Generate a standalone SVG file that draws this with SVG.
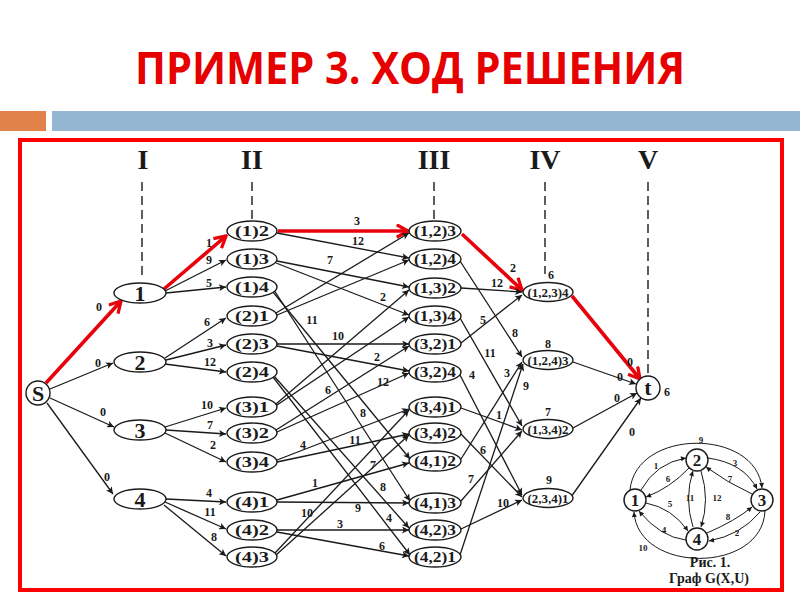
<svg xmlns="http://www.w3.org/2000/svg" width="800" height="600" viewBox="0 0 800 600">
<defs>
<marker id="ab" viewBox="0 0 10 10" refX="10" refY="5" markerWidth="9" markerHeight="7" markerUnits="userSpaceOnUse" orient="auto"><path d="M0,0 L10,5 L0,10 L2.5,5 z" fill="#1a1a1a"/></marker>
<marker id="ar" viewBox="0 0 12 12" refX="10.5" refY="6" markerWidth="15" markerHeight="15" markerUnits="userSpaceOnUse" orient="auto"><path d="M1.5,1 L10.5,6 L1.5,11" fill="none" stroke="#e8000b" stroke-width="2.6"/></marker>
<marker id="ai" viewBox="0 0 10 10" refX="10" refY="5" markerWidth="6" markerHeight="5" markerUnits="userSpaceOnUse" orient="auto"><path d="M0,0 L10,5 L0,10 z" fill="#1a1a1a"/></marker>
<style>
.e{stroke:#1a1a1a;stroke-width:1.3;fill:none;marker-end:url(#ab)}
.r{stroke:#e8000b;stroke-width:3.6;fill:none;marker-end:url(#ar)}
.ie{stroke:#1a1a1a;stroke-width:1;fill:none;marker-end:url(#ai)}
.dash{stroke:#1a1a1a;stroke-width:1.4;stroke-dasharray:9 5}
.nd ellipse,.nd circle{fill:#fff;stroke:#1a1a1a;stroke-width:1.4}
text{font-family:"Liberation Serif","Times New Roman",serif;font-weight:bold;fill:#1a1a1a;text-anchor:middle}
.l{font-size:12px}
.n{font-size:15px}
.m{font-size:13px}
.b{font-size:22px}
.h{font-size:28px}
.il{font-size:9px}
.cap{font-size:14px}
</style>
</defs>

<g id="title">
<text x="410" y="84" style="font-family:'Open Sans','Liberation Sans',sans-serif;font-size:44px;fill:#e60000" textLength="550" lengthAdjust="spacingAndGlyphs">ПРИМЕР 3. ХОД РЕШЕНИЯ</text>
</g>
<g id="bar">
<rect x="0" y="111" width="46" height="20" fill="#e0824a"/>
<rect x="52" y="111" width="748" height="20" fill="#94b6d2"/>
</g>
<rect id="frame" x="20" y="140" width="762" height="450" fill="none" stroke="#ff0000" stroke-width="4"/>

<g id="headers">
<text class="h" x="143" y="169">I</text>
<text class="h" x="252" y="169">II</text>
<text class="h" x="434" y="169">III</text>
<text class="h" x="545" y="169">IV</text>
<text class="h" x="648" y="169">V</text>
<line class="dash" x1="142" y1="182" x2="142" y2="280"/>
<line class="dash" x1="252" y1="182" x2="252" y2="219"/>
<line class="dash" x1="434" y1="182" x2="434" y2="219"/>
<line class="dash" x1="545" y1="182" x2="545" y2="274"/>
<line class="dash" x1="648" y1="182" x2="648" y2="374"/>
</g>

<g id="connectors">
<path class="r" d="M46,383 L121,301"/>
<path class="e" d="M50,389 L113,363"/>
<path class="e" d="M50,398 L114,427"/>
<path class="e" d="M47,403 L113,494"/>

<path class="r" d="M164,289 L226,236"/>
<path class="e" d="M165,291 L226,260"/>
<path class="e" d="M166,293 L226,287"/>
<path class="e" d="M165,358 L226,318"/>
<path class="e" d="M166,360 L226,345"/>
<path class="e" d="M165,364 L226,372"/>
<path class="e" d="M165,427 L226,408"/>
<path class="e" d="M166,430 L226,434"/>
<path class="e" d="M165,433 L226,462"/>
<path class="e" d="M166,499 L226,502"/>
<path class="e" d="M165,502 L226,529"/>
<path class="e" d="M164,505 L226,556"/>

<path class="r" d="M278,231 L408,231"/>
<path class="e" d="M277,233 L409,258"/>
<path class="e" d="M277,261 L409,287"/>
<path class="e" d="M276,263 L409,315"/>
<path class="e" d="M273,292 L410,459"/>
<path class="e" d="M274,290 L410,501"/>
<path class="e" d="M276,313 L409,233"/>
<path class="e" d="M277,315 L409,260"/>
<path class="e" d="M277,344 L409,344"/>
<path class="e" d="M277,346 L409,371"/>
<path class="e" d="M274,376 L409,528"/>
<path class="e" d="M273,377 L410,555"/>
<path class="e" d="M276,404 L409,290"/>
<path class="e" d="M277,405 L409,317"/>
<path class="e" d="M276,430 L409,346"/>
<path class="e" d="M277,432 L409,373"/>
<path class="e" d="M277,460 L409,409"/>
<path class="e" d="M277,462 L409,434"/>
<path class="e" d="M277,500 L409,463"/>
<path class="e" d="M277,502 L409,503"/>
<path class="e" d="M277,530 L409,530"/>
<path class="e" d="M277,532 L409,556"/>
<path class="e" d="M275,553 L409,410"/>
<path class="e" d="M276,555 L409,435"/>

<path class="r" d="M462,234 L522,290"/>
<path class="e" d="M460,261 L522,357"/>
<path class="e" d="M461,288 L522,292"/>
<path class="e" d="M460,318 L522,426"/>
<path class="e" d="M461,343 L522,295"/>
<path class="e" d="M460,375 L522,495"/>
<path class="e" d="M461,408 L522,430"/>
<path class="e" d="M461,434 L522,497"/>
<path class="e" d="M461,459 L522,362"/>
<path class="e" d="M461,501 L522,431"/>
<path class="e" d="M461,529 L522,500"/>
<path class="e" d="M460,555 L523,364"/>

<path class="r" d="M572,296 L640,379"/>
<path class="e" d="M573,362 L636,384"/>
<path class="e" d="M573,428 L637,393"/>
<path class="e" d="M571,497 L641,398"/>
</g>

<g id="edge-labels">
<text class="l" x="99" y="311">0</text>
<text class="l" x="98" y="367">0</text>
<text class="l" x="103" y="416">0</text>
<text class="l" x="107" y="481">0</text>
<text class="l" x="209" y="247">1</text>
<text class="l" x="209" y="264">9</text>
<text class="l" x="209" y="287">5</text>
<text class="l" x="207" y="326">6</text>
<text class="l" x="210" y="347">3</text>
<text class="l" x="210" y="366">12</text>
<text class="l" x="207" y="409">10</text>
<text class="l" x="210" y="429">7</text>
<text class="l" x="213" y="449">2</text>
<text class="l" x="209" y="497">4</text>
<text class="l" x="210" y="516">11</text>
<text class="l" x="214" y="541">8</text>

<text class="l" x="357" y="225">3</text>
<text class="l" x="358" y="245">12</text>
<text class="l" x="330" y="264">7</text>
<text class="l" x="383" y="301">2</text>
<text class="l" x="312" y="324">11</text>
<text class="l" x="338" y="340">10</text>
<text class="l" x="377" y="361">2</text>
<text class="l" x="328" y="394">6</text>
<text class="l" x="383" y="386">12</text>
<text class="l" x="363" y="417">8</text>
<text class="l" x="303" y="449">4</text>
<text class="l" x="355" y="444">11</text>
<text class="l" x="373" y="469">7</text>
<text class="l" x="315" y="487">1</text>
<text class="l" x="383" y="491">8</text>
<text class="l" x="358" y="512">9</text>
<text class="l" x="307" y="517">10</text>
<text class="l" x="340" y="528">3</text>
<text class="l" x="389" y="522">4</text>
<text class="l" x="382" y="550">6</text>

<text class="l" x="513" y="272">2</text>
<text class="l" x="497" y="287">12</text>
<text class="l" x="483" y="324">5</text>
<text class="l" x="515" y="337">8</text>
<text class="l" x="490" y="357">11</text>
<text class="l" x="472" y="379">4</text>
<text class="l" x="507" y="377">3</text>
<text class="l" x="526" y="390">9</text>
<text class="l" x="499" y="419">1</text>
<text class="l" x="483" y="454">6</text>
<text class="l" x="471" y="483">7</text>
<text class="l" x="503" y="507">10</text>

<text class="l" x="551" y="279">6</text>
<text class="l" x="548" y="348">8</text>
<text class="l" x="548" y="416">7</text>
<text class="l" x="549" y="484">9</text>

<text class="l" x="630" y="366">0</text>
<text class="l" x="620" y="381">0</text>
<text class="l" x="617" y="402">0</text>
<text class="l" x="632" y="436">0</text>
<text class="l" x="667" y="396">6</text>
</g>

<g id="node-S" class="nd"><circle cx="38" cy="393" r="12"/><text class="b" x="38" y="401">S</text></g>
<g id="node-1" class="nd"><ellipse cx="140" cy="293" rx="26" ry="10"/><text class="b" x="140" y="301">1</text></g>
<g id="node-2" class="nd"><ellipse cx="140" cy="362" rx="26" ry="10"/><text class="b" x="140" y="370">2</text></g>
<g id="node-3" class="nd"><ellipse cx="140" cy="430" rx="26" ry="10"/><text class="b" x="140" y="438">3</text></g>
<g id="node-4" class="nd"><ellipse cx="140" cy="499" rx="26" ry="10"/><text class="b" x="140" y="507">4</text></g>

<g id="n-1-2" class="nd"><ellipse cx="252" cy="231" rx="25" ry="10"/><text class="n" x="252" y="236" textLength="34" lengthAdjust="spacingAndGlyphs">(1)2</text></g>
<g id="n-1-3" class="nd"><ellipse cx="252" cy="259" rx="25" ry="10"/><text class="n" x="252" y="264" textLength="34" lengthAdjust="spacingAndGlyphs">(1)3</text></g>
<g id="n-1-4" class="nd"><ellipse cx="252" cy="287" rx="25" ry="10"/><text class="n" x="252" y="292" textLength="34" lengthAdjust="spacingAndGlyphs">(1)4</text></g>
<g id="n-2-1" class="nd"><ellipse cx="252" cy="316" rx="25" ry="10"/><text class="n" x="252" y="321" textLength="34" lengthAdjust="spacingAndGlyphs">(2)1</text></g>
<g id="n-2-3" class="nd"><ellipse cx="252" cy="344" rx="25" ry="10"/><text class="n" x="252" y="349" textLength="34" lengthAdjust="spacingAndGlyphs">(2)3</text></g>
<g id="n-2-4" class="nd"><ellipse cx="252" cy="372" rx="25" ry="10"/><text class="n" x="252" y="377" textLength="34" lengthAdjust="spacingAndGlyphs">(2)4</text></g>
<g id="n-3-1" class="nd"><ellipse cx="252" cy="407" rx="25" ry="10"/><text class="n" x="252" y="412" textLength="34" lengthAdjust="spacingAndGlyphs">(3)1</text></g>
<g id="n-3-2" class="nd"><ellipse cx="252" cy="433" rx="25" ry="10"/><text class="n" x="252" y="438" textLength="34" lengthAdjust="spacingAndGlyphs">(3)2</text></g>
<g id="n-3-4" class="nd"><ellipse cx="252" cy="462" rx="25" ry="10"/><text class="n" x="252" y="467" textLength="34" lengthAdjust="spacingAndGlyphs">(3)4</text></g>
<g id="n-4-1" class="nd"><ellipse cx="252" cy="502" rx="25" ry="10"/><text class="n" x="252" y="507" textLength="34" lengthAdjust="spacingAndGlyphs">(4)1</text></g>
<g id="n-4-2" class="nd"><ellipse cx="252" cy="530" rx="25" ry="10"/><text class="n" x="252" y="535" textLength="34" lengthAdjust="spacingAndGlyphs">(4)2</text></g>
<g id="n-4-3" class="nd"><ellipse cx="252" cy="557" rx="25" ry="10"/><text class="n" x="252" y="562" textLength="34" lengthAdjust="spacingAndGlyphs">(4)3</text></g>

<g id="n-12-3" class="nd"><ellipse cx="435" cy="231" rx="26" ry="10"/><text class="n" x="435" y="236" textLength="42" lengthAdjust="spacingAndGlyphs">(1,2)3</text></g>
<g id="n-12-4" class="nd"><ellipse cx="435" cy="259" rx="26" ry="10"/><text class="n" x="435" y="264" textLength="42" lengthAdjust="spacingAndGlyphs">(1,2)4</text></g>
<g id="n-13-2" class="nd"><ellipse cx="435" cy="288" rx="26" ry="10"/><text class="n" x="435" y="293" textLength="42" lengthAdjust="spacingAndGlyphs">(1,3)2</text></g>
<g id="n-13-4" class="nd"><ellipse cx="435" cy="316" rx="26" ry="10"/><text class="n" x="435" y="321" textLength="42" lengthAdjust="spacingAndGlyphs">(1,3)4</text></g>
<g id="n-32-1" class="nd"><ellipse cx="435" cy="344" rx="26" ry="10"/><text class="n" x="435" y="349" textLength="42" lengthAdjust="spacingAndGlyphs">(3,2)1</text></g>
<g id="n-32-4" class="nd"><ellipse cx="435" cy="372" rx="26" ry="10"/><text class="n" x="435" y="377" textLength="42" lengthAdjust="spacingAndGlyphs">(3,2)4</text></g>
<g id="n-34-1" class="nd"><ellipse cx="435" cy="407" rx="26" ry="10"/><text class="n" x="435" y="412" textLength="42" lengthAdjust="spacingAndGlyphs">(3,4)1</text></g>
<g id="n-34-2" class="nd"><ellipse cx="435" cy="433" rx="26" ry="10"/><text class="n" x="435" y="438" textLength="42" lengthAdjust="spacingAndGlyphs">(3,4)2</text></g>
<g id="n-41-2" class="nd"><ellipse cx="435" cy="461" rx="26" ry="10"/><text class="n" x="435" y="466" textLength="42" lengthAdjust="spacingAndGlyphs">(4,1)2</text></g>
<g id="n-41-3" class="nd"><ellipse cx="435" cy="503" rx="26" ry="10"/><text class="n" x="435" y="508" textLength="42" lengthAdjust="spacingAndGlyphs">(4,1)3</text></g>
<g id="n-42-3" class="nd"><ellipse cx="435" cy="530" rx="26" ry="10"/><text class="n" x="435" y="535" textLength="42" lengthAdjust="spacingAndGlyphs">(4,2)3</text></g>
<g id="n-42-1" class="nd"><ellipse cx="435" cy="557" rx="26" ry="10"/><text class="n" x="435" y="562" textLength="42" lengthAdjust="spacingAndGlyphs">(4,2)1</text></g>

<g id="n-123-4" class="nd"><ellipse cx="548" cy="292" rx="25" ry="9.5"/><text class="m" x="548" y="296.5" textLength="41" lengthAdjust="spacingAndGlyphs">(1,2,3)4</text></g>
<g id="n-124-3" class="nd"><ellipse cx="548" cy="360" rx="25" ry="9.5"/><text class="m" x="548" y="364.5" textLength="41" lengthAdjust="spacingAndGlyphs">(1,2,4)3</text></g>
<g id="n-134-2" class="nd"><ellipse cx="548" cy="429" rx="25" ry="9.5"/><text class="m" x="548" y="433.5" textLength="41" lengthAdjust="spacingAndGlyphs">(1,3,4)2</text></g>
<g id="n-234-1" class="nd"><ellipse cx="548" cy="498" rx="25" ry="9.5"/><text class="m" x="548" y="502.5" textLength="41" lengthAdjust="spacingAndGlyphs">(2,3,4)1</text></g>

<g id="node-t" class="nd"><circle cx="648" cy="388" r="12"/><text class="b" x="648" y="395">t</text></g>

<g id="inset">
<g id="inset-connectors">
<path class="ie" d="M630,490 C636,428 756,428 762,488"/>
<path class="ie" d="M765,511 C762,574 638,574 634,512"/>
<path class="ie" d="M641,490 Q656,463 686,458"/>
<path class="ie" d="M689,468 Q670,488 646,497"/>
<path class="ie" d="M708,458 Q744,463 757,489"/>
<path class="ie" d="M752,494 Q728,483 706,467"/>
<path class="ie" d="M701,471 Q710,500 701,527"/>
<path class="ie" d="M693,527 Q684,498 693,471"/>
<path class="ie" d="M646,503 Q672,508 688,531"/>
<path class="ie" d="M686,540 Q660,537 639,511"/>
<path class="ie" d="M707,533 Q735,521 752,507"/>
<path class="ie" d="M760,512 Q741,535 709,541"/>
</g>
<text class="il" x="701" y="443">9</text>
<text class="il" x="656" y="469">1</text>
<text class="il" x="735" y="466">3</text>
<text class="il" x="668" y="482">6</text>
<text class="il" x="730" y="482">7</text>
<text class="il" x="690" y="501">11</text>
<text class="il" x="717" y="501">12</text>
<text class="il" x="670" y="507">5</text>
<text class="il" x="728" y="520">8</text>
<text class="il" x="664" y="533">4</text>
<text class="il" x="737" y="536">2</text>
<text class="il" x="643" y="551">10</text>
<g id="inset-1" class="nd"><circle cx="635" cy="500" r="11"/><text x="635" y="506" style="font-size:17px">1</text></g>
<g id="inset-2" class="nd"><circle cx="697" cy="460" r="11"/><text x="697" y="466" style="font-size:17px">2</text></g>
<g id="inset-3" class="nd"><circle cx="762" cy="500" r="11"/><text x="762" y="506" style="font-size:17px">3</text></g>
<g id="inset-4" class="nd"><circle cx="697" cy="539" r="11"/><text x="697" y="545" style="font-size:17px">4</text></g>
<text class="cap" x="710" y="567">Рис. 1.</text>
<text class="cap" x="709" y="583">Граф G(X,U)</text>
</g>
</svg>
